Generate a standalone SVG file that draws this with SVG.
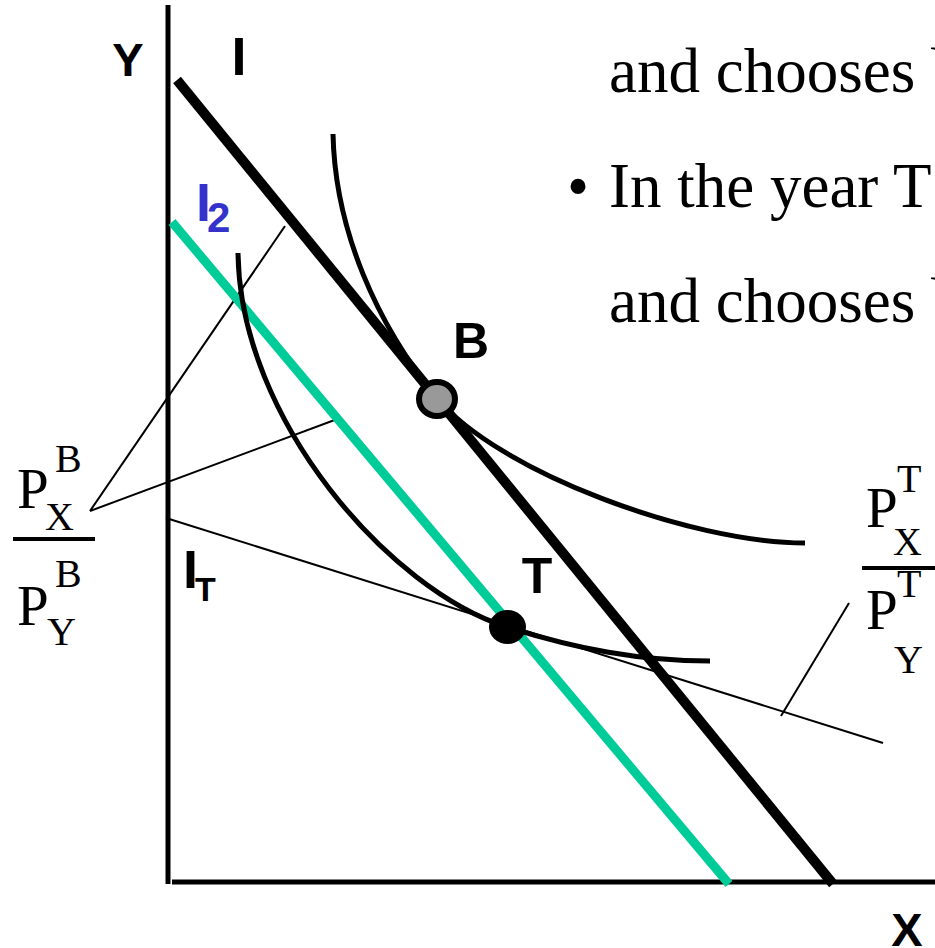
<svg xmlns="http://www.w3.org/2000/svg" width="935" height="948" viewBox="0 0 935 948">
<style>
.axis{stroke:#000;stroke-width:5;fill:none}
.thin{stroke:#000;stroke-width:2;fill:none}
.curve{stroke:#000;stroke-width:5;fill:none}
.lbl{font-family:"Liberation Sans",Arial,sans-serif;font-weight:bold;fill:#000}
.ser{font-family:"Liberation Serif","Times New Roman",serif;fill:#000}
</style>
<rect width="935" height="948" fill="#fff"/>
<g id="axes">
<line class="axis" x1="168" y1="5" x2="168" y2="884"/>
<line class="axis" x1="172" y1="882" x2="935" y2="882"/>
<text class="lbl" x="128" y="76" font-size="47" text-anchor="middle">Y</text>
<text class="lbl" x="907" y="946" font-size="47" text-anchor="middle">X</text>
</g>
<g id="connectors">
<line class="thin" x1="166" y1="518" x2="883" y2="743"/>
<line class="thin" x1="90" y1="511" x2="285" y2="226"/>
<line class="thin" x1="90" y1="511" x2="340" y2="418"/>
<line class="thin" x1="781" y1="716" x2="849" y2="603"/>
</g>
<g id="budget-I">
<line x1="177" y1="80" x2="833" y2="884" stroke="#000" stroke-width="10"/>
<text class="lbl" x="239" y="75" font-size="54" text-anchor="middle">I</text>
</g>
<g id="budget-I2">
<line x1="172" y1="222" x2="729" y2="884" stroke="#00CC99" stroke-width="9"/>
<text class="lbl" x="196" y="221" font-size="54" fill="#3333CC" style="fill:#3333CC">I</text>
<text class="lbl" x="207" y="232" font-size="42" style="fill:#3333CC">2</text>
</g>
<g id="indiff-B">
<path class="curve" d="M333,134 C335,230 377,325 437,398 C497,471 690,543 805,543"/>
</g>
<g id="indiff-T">
<path class="curve" d="M238,253 C240,420 390,590 507,627 C577,649 640,661 710,661"/>
</g>
<g id="label-IT">
<text class="lbl" x="183" y="588" font-size="54">I</text>
<text class="lbl" x="195" y="601" font-size="34">T</text>
</g>
<g id="point-B">
<ellipse cx="437" cy="399" rx="18" ry="17" fill="#999" stroke="#000" stroke-width="6"/>
<text class="lbl" x="471" y="358" font-size="50" text-anchor="middle">B</text>
</g>
<g id="point-T">
<ellipse cx="507.5" cy="627" rx="18.5" ry="17" fill="#000"/>
<text class="lbl" x="537" y="593" font-size="50" text-anchor="middle">T</text>
</g>
<g id="ratio-B">
<text class="ser" x="17" y="508" font-size="57">P</text>
<text class="ser" x="55" y="472" font-size="40">B</text>
<text class="ser" x="45" y="530" font-size="40">X</text>
<line x1="13" y1="539" x2="95" y2="539" stroke="#000" stroke-width="4"/>
<text class="ser" x="17" y="625" font-size="57">P</text>
<text class="ser" x="55" y="587" font-size="40">B</text>
<text class="ser" x="47" y="645" font-size="40">Y</text>
</g>
<g id="ratio-T">
<text class="ser" x="866" y="527" font-size="57">P</text>
<text class="ser" x="897" y="492" font-size="40">T</text>
<text class="ser" x="893" y="555" font-size="40">X</text>
<line x1="862" y1="568" x2="935" y2="568" stroke="#000" stroke-width="4"/>
<text class="ser" x="866" y="629" font-size="57">P</text>
<text class="ser" x="897" y="597" font-size="40">T</text>
<text class="ser" x="894" y="673" font-size="40">Y</text>
</g>
<g id="text">
<text class="ser" x="609" y="92" font-size="63">and chooses b</text>
<text class="ser" x="567" y="207" font-size="63">•</text>
<text class="ser" x="609" y="207" font-size="63">In the year T</text>
<text class="ser" x="609" y="322" font-size="63">and chooses b</text>
</g>
</svg>
